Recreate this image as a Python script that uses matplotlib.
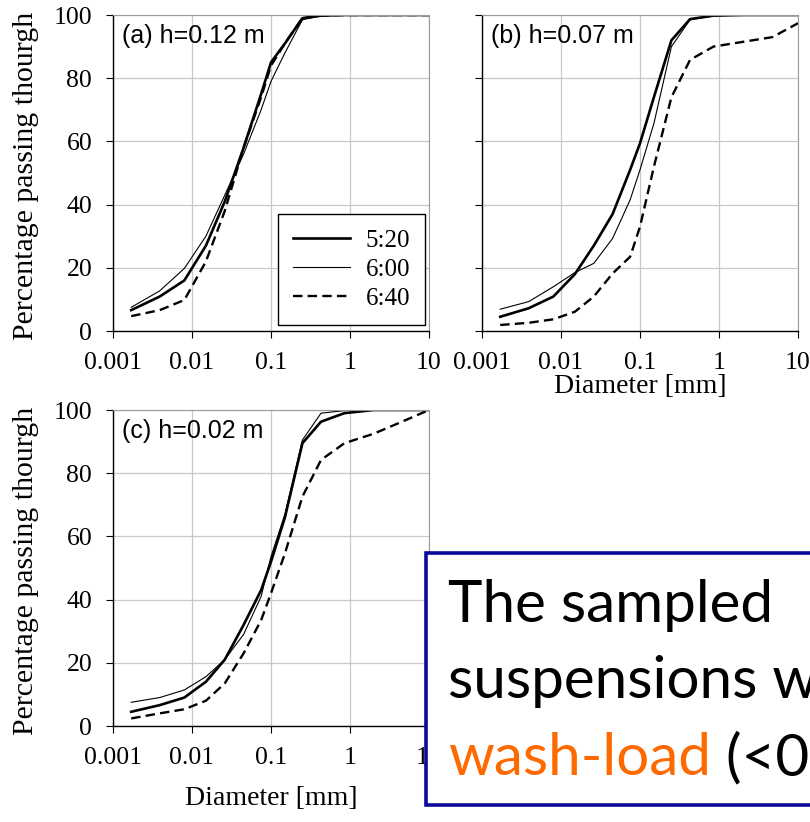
import numpy as np
import matplotlib
matplotlib.use("Agg")
import matplotlib.pyplot as plt
from matplotlib.patches import Rectangle

# grain diameters [mm]
diam = [0.0017, 0.0039, 0.008, 0.015, 0.026, 0.045, 0.075, 0.1, 0.15, 0.25, 0.43, 0.85, 2.0, 4.75, 10]

# percentage passing, panel (a) h=0.12 m
a_520 = [6.6, 10.9, 16, 27, 41, 58, 75, 85, 91, 99, 99.8, 100, 100, 100, 100]
a_600 = [7.5, 12.7, 19.8, 30, 43, 56, 70, 79, 88, 98.5, 99.7, 100, 100, 100, 100]
a_640 = [4.7, 6.6, 9.8, 22, 38, 58, 74, 84, 91, 99, 99.8, 100, 100, 100, 100]
# panel (b) h=0.07 m
b_520 = [4.5, 7.2, 10.9, 18, 27, 37, 51, 59.4, 74, 92, 98.7, 99.8, 100, 100, 100]
b_600 = [6.9, 9.3, 14, 18.5, 21.4, 29.3, 41.5, 51, 65.7, 90, 98.5, 99.7, 100, 100, 100]
b_640 = [1.9, 2.6, 3.7, 6.1, 10.9, 18.2, 23.5, 33, 52, 74, 85.8, 90, 91.5, 93, 97.4]
# panel (c) h=0.02 m
c_520 = [4.5, 6.6, 9, 14, 21, 32, 43, 52, 66, 89.5, 96.3, 99, 100, 100, 100]
c_600 = [7.5, 9, 11.4, 15.6, 21, 29, 41, 53.6, 67, 90.5, 99, 99.8, 100, 100, 100]
c_640 = [2.4, 4, 5.3, 8, 13.5, 23, 33.5, 42, 54.6, 72.6, 84.2, 89.5, 92.5, 96.5, 100]

times = ["5:20", "6:00", "6:40"]
panels = ["(a) h=0.12 m", "(b) h=0.07 m", "(c) h=0.02 m"]
xticks = [0.001, 0.01, 0.1, 1, 10]
xticklabels = ["0.001", "0.01", "0.1", "1", "10"]
yticks = [0, 20, 40, 60, 80, 100]

serif = "Liberation Serif"
sans = "Liberation Sans"

fig = plt.figure(figsize=(8.1, 8.22), dpi=100)
W, H = 810, 822

def make_ax(left, top):
    w, h = 316, 316
    return fig.add_axes([left / W, 1 - (top + h) / H, w / W, h / H])

ax_a = make_ax(113, 15)
ax_b = make_ax(482, 15)
ax_c = make_ax(113, 410)

data = [(ax_a, a_520, a_600, a_640), (ax_b, b_520, b_600, b_640), (ax_c, c_520, c_600, c_640)]

for i, (ax, s1, s2, s3) in enumerate(data):
    ax.plot(diam, s1, color="black", lw=1.9, label=times[0])
    ax.plot(diam, s2, color="black", lw=0.8, label=times[1])
    ax.plot(diam, s3, color="black", lw=1.7, ls=(0, (4, 2.2)), label=times[2])
    ax.set_xscale("log")
    ax.set_xlim(0.001, 10)
    ax.set_ylim(0, 100)
    ax.set_xticks(xticks)
    ax.set_xticklabels(xticklabels)
    ax.minorticks_off()
    ax.set_yticks(yticks)
    ax.grid(True, color="#c8c8c8", lw=0.9)
    ax.set_axisbelow(True)
    for s in ["top", "right"]:
        ax.spines[s].set_color("#9a9a9a")
    for s in ["left", "bottom"]:
        ax.spines[s].set_color("black")
        ax.spines[s].set_linewidth(1.0)
    ax.tick_params(axis="x", direction="out", length=5, pad=10, labelsize=18.5)
    ax.tick_params(axis="y", direction="out", length=5, pad=10, labelsize=18.5)
    for lab in ax.get_xticklabels() + ax.get_yticklabels():
        lab.set_fontfamily(serif)
    ax.text(0.028, 0.934, panels[i], transform=ax.transAxes, fontsize=18,
            family=sans, va="center", ha="left")
    if i == 1:
        ax.set_yticklabels([])
    else:
        ax.set_ylabel("Percentage passing thourgh", fontsize=21.5, family=serif)
        ax.yaxis.set_label_coords(-0.234, 0.49)

ax_b.set_xlabel("Diameter [mm]", fontsize=20, family=serif)
ax_b.xaxis.set_label_coords(0.5, -0.135)
ax_c.set_xlabel("Diameter [mm]", fontsize=20, family=serif)
ax_c.xaxis.set_label_coords(0.5, -0.19)

leg = ax_a.legend(loc="lower right", bbox_to_anchor=(0.987, 0.019), fancybox=False,
                  edgecolor="black", framealpha=1, prop={"family": serif, "size": 18},
                  handlelength=2.3, handletextpad=0.6, labelspacing=0.26, borderpad=0.6,
                  borderaxespad=0)
leg.get_frame().set_linewidth(1.0)

# overlay text box
box = Rectangle((426 / W, 1 - 805 / H), 0.6, (805 - 553) / H, transform=fig.transFigure,
                facecolor="white", edgecolor="#0a0a9a", lw=2.6, zorder=10, clip_on=False)
fig.patches.append(box)
calib = "Lato"
fs = 42
fig.text(448 / W, 1 - 622 / H, "The sampled", fontsize=fs, family=calib, va="baseline",
         ha="left", zorder=11)
fig.text(448 / W, 1 - 698 / H, "suspensions w", fontsize=fs, family=calib, va="baseline",
         ha="left", zorder=11)
t1 = fig.text(448 / W, 1 - 775 / H, "wash-load", fontsize=fs, family=calib, va="baseline",
              ha="left", color="#ff6a00", zorder=11)
fig.canvas.draw()
bb = t1.get_window_extent()
fig.text(bb.x1 / W, 1 - 775 / H, " (<0", fontsize=fs, family=calib, va="baseline",
         ha="left", zorder=11)

fig.savefig("out.png", dpi=100)
